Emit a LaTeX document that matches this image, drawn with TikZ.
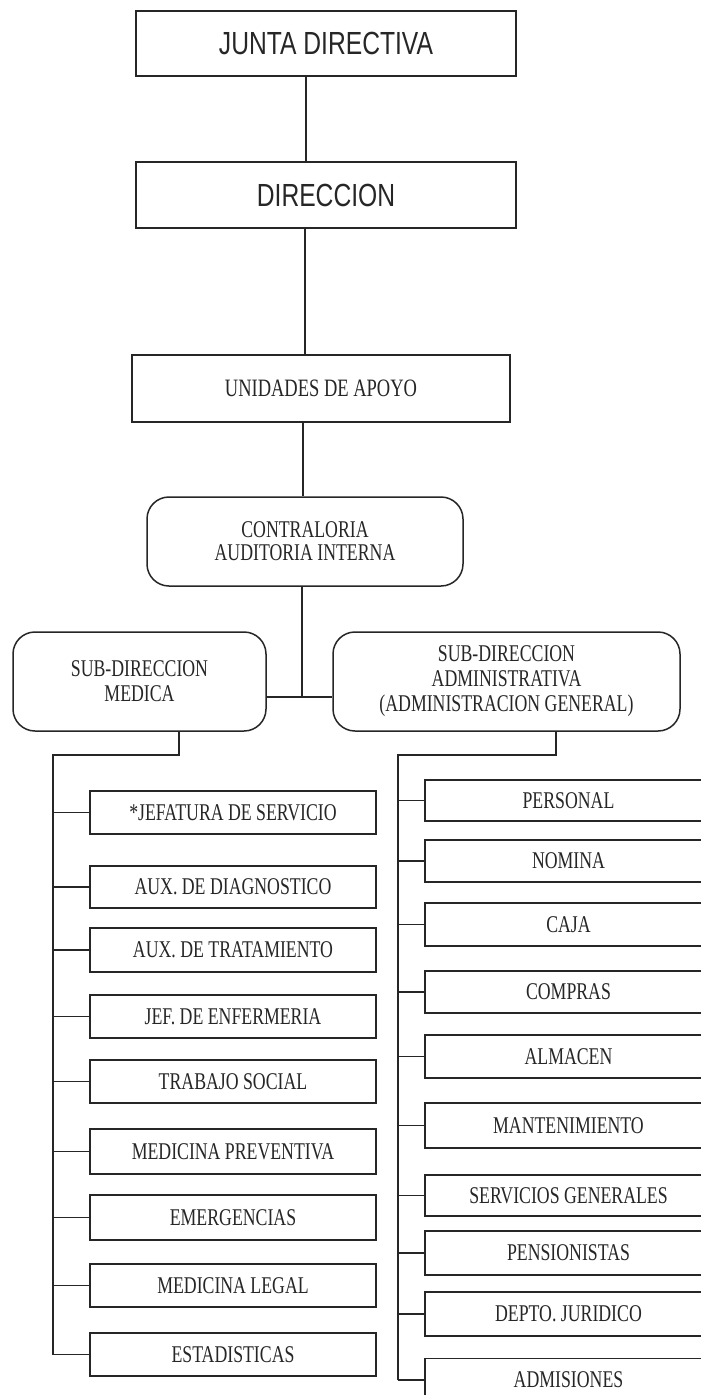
\documentclass[tikz,border=0pt]{standalone}
\usepackage{fontspec}
\newfontfamily\lblfont[FakeStretch=0.74]{Liberation Serif}
\newfontfamily\topfont[FakeStretch=0.77]{Liberation Sans}
\begin{document}
\begin{tikzpicture}[x=1pt,y=-1pt,
  ln/.style={line width=1.5pt, draw=black!85},
  rbox/.style={ln, rectangle, inner sep=0pt, align=center, text=black!85,
    font=\lblfont\fontsize{24}{25}\selectfont},
  tbox/.style={rbox, font=\topfont\fontsize{32}{34}\selectfont},
  obox/.style={rbox, rounded corners=22pt},
  lbox/.style={rbox, minimum width=286pt},
  abox/.style={rbox, minimum width=287pt}]
\useasboundingbox (0,0) rectangle (701,1395);
\fill[white] (0,0) rectangle (701,1395);
\clip (0,0) rectangle (701,1395);

% top chain
\node[tbox, minimum width=380pt, minimum height=65pt] (junta) at (326,43.5) {JUNTA DIRECTIVA};
\node[tbox, minimum width=380pt, minimum height=66pt] (dir) at (326,195) {DIRECCION};
\node[rbox, minimum width=378pt, minimum height=67pt, font=\lblfont\fontsize{25}{26}\selectfont] (uni) at (321,388.5) {UNIDADES DE APOYO};
\node[obox, minimum width=316pt, minimum height=89pt, font=\lblfont\fontsize{24}{23}\selectfont] (contra) at (305,541.5) {CONTRALORIA\\AUDITORIA INTERNA};
\node[obox, minimum width=253pt, minimum height=99pt] (med) at (139.5,681.5) {SUB-DIRECCION\\MEDICA};
\node[obox, minimum width=347pt, minimum height=99pt] (adm) at (506.5,681.5) {SUB-DIRECCION\\ADMINISTRATIVA\\(ADMINISTRACION GENERAL)};

\coordinate (c1) at (306,0);
\coordinate (c2) at (305,0);
\coordinate (c3) at (303,0);
\coordinate (jn) at (302,697);
\draw[ln] (junta.south -| c1) -- (dir.north -| c1);
\draw[ln] (dir.south -| c2) -- (uni.north -| c2);
\draw[ln] (uni.south -| c3) -- (contra.north -| c3);
\draw[ln] (contra.south -| jn) -- (jn);
\draw[ln] (med.east |- jn) -- (adm.west |- jn);

% left column
\node[lbox, minimum height=43pt] (l1) at (233,812.5) {*JEFATURA DE SERVICIO};
\node[lbox, minimum height=42pt] (l2) at (233,887) {AUX. DE DIAGNOSTICO};
\node[lbox, minimum height=44pt] (l3) at (233,950) {AUX. DE TRATAMIENTO};
\node[lbox, minimum height=43pt] (l4) at (233,1016.5) {JEF. DE ENFERMERIA};
\node[lbox, minimum height=43pt] (l5) at (233,1081.5) {TRABAJO SOCIAL};
\node[lbox, minimum height=45pt] (l6) at (233,1151.5) {MEDICINA PREVENTIVA};
\node[lbox, minimum height=45pt] (l7) at (233,1217.5) {EMERGENCIAS};
\node[lbox, minimum height=43pt] (l8) at (233,1285.5) {MEDICINA LEGAL};
\node[lbox, minimum height=43pt] (l9) at (233,1354.5) {ESTADISTICAS};

\coordinate (mt) at (179,755);
\coordinate (ml) at (53,755);
\draw[ln] (med.south -| mt) -- (mt) -- (ml) -- (ml |- l9.west);
\foreach \n in {l1,l2,l3,l4,l5,l6,l7,l8,l9}
  \draw[ln] (ml |- \n.west) -- (\n.west);

% right column
\node[abox, minimum height=41pt] (r1) at (568.5,800.5) {PERSONAL};
\node[abox, minimum height=42pt] (r2) at (568.5,861) {NOMINA};
\node[abox, minimum height=43pt] (r3) at (568.5,924.5) {CAJA};
\node[abox, minimum height=42pt] (r4) at (568.5,992) {COMPRAS};
\node[abox, minimum height=43pt] (r5) at (568.5,1056.5) {ALMACEN};
\node[abox, minimum height=45pt] (r6) at (568.5,1125.5) {MANTENIMIENTO};
\node[abox, minimum height=41pt] (r7) at (568.5,1195.5) {SERVICIOS GENERALES};
\node[abox, minimum height=44pt] (r8) at (568.5,1253) {PENSIONISTAS};
\node[abox, minimum height=44pt] (r9) at (568.5,1314) {DEPTO. JURIDICO};
\node[abox, minimum height=43pt] (r10) at (568.5,1380) {ADMISIONES};

\coordinate (at) at (556,755);
\coordinate (al) at (398,755);
\draw[ln] (adm.south -| at) -- (at) -- (al) -- (al |- r10.west);
\foreach \n in {r1,r2,r3,r4,r5,r6,r7,r8,r9,r10}
  \draw[ln] (al |- \n.west) -- (\n.west);
\end{tikzpicture}
\end{document}
